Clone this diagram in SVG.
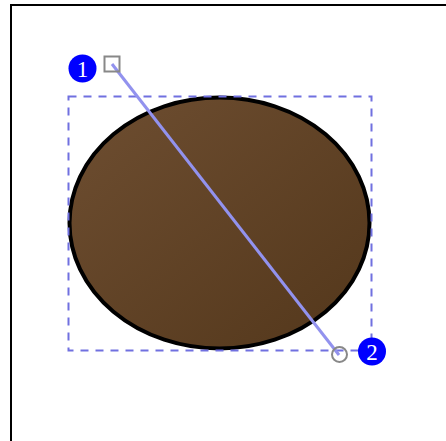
<svg xmlns="http://www.w3.org/2000/svg" width="446" height="441" viewBox="0 0 446 441">
<style>
.frame{fill:none;stroke:#000;stroke-width:2}
.sel{fill:none;stroke:#7070e0;stroke-width:2;stroke-dasharray:8,7}
.handle{fill:#fff;stroke:#888;stroke-width:2}
.badge{fill:#0000ff}
.num{fill:#fff;font-family:"Liberation Serif",serif;font-size:23px;text-anchor:middle}
.conn{stroke:#9292ee;stroke-width:3;fill:none}
</style>
<defs>
<linearGradient id="g" x1="0" y1="0" x2="1" y2="1">
<stop offset="0" stop-color="#6e4e31"/>
<stop offset="1" stop-color="#53371b"/>
</linearGradient>
</defs>
<rect width="446" height="441" fill="#fff"/>
<path class="frame" d="M11,441 V5 H446"/>
<g id="shape">
<ellipse cx="219.5" cy="223" rx="150" ry="125.5" fill="url(#g)" stroke="#000" stroke-width="4"/>
</g>
<rect class="sel" x="68.5" y="96.5" width="303" height="254"/>
<g id="connectors">
<line class="conn" x1="112" y1="64" x2="339" y2="355"/>
</g>
<g id="handle1"><rect class="handle" x="104.5" y="56.5" width="15" height="15" fill-opacity="0"/></g>
<g id="handle2"><circle class="handle" cx="339.5" cy="354.5" r="7.5" fill-opacity="0"/></g>
<g id="badge1"><circle class="badge" cx="82.5" cy="68.5" r="14"/><text class="num" x="82.5" y="76.5">1</text></g>
<g id="badge2"><circle class="badge" cx="372" cy="351.5" r="14"/><text class="num" x="372" y="359.5">2</text></g>
</svg>
